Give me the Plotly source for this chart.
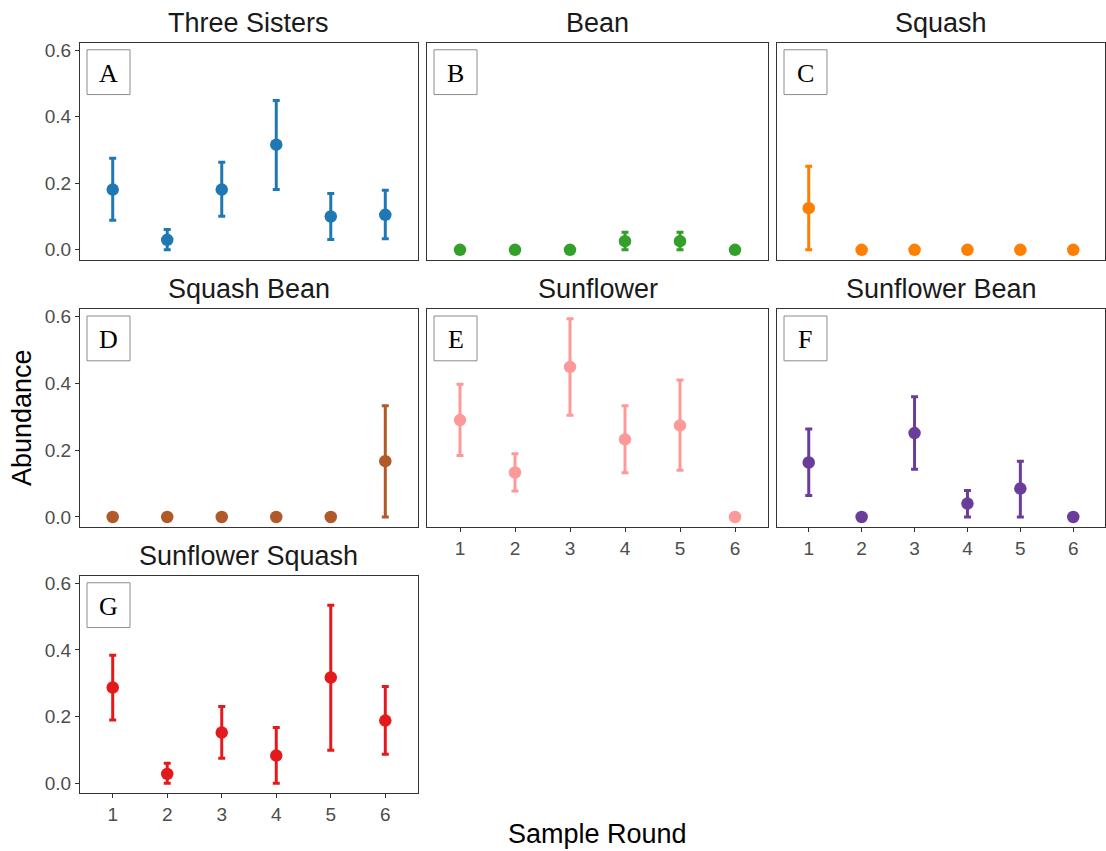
import plotly.graph_objects as go

W, H = 1106, 851

rounds = [1, 2, 3, 4, 5, 6]
panel_titles = ["Three Sisters", "Bean", "Squash", "Squash Bean", "Sunflower", "Sunflower Bean", "Sunflower Squash"]
panel_letters = ["A", "B", "C", "D", "E", "F", "G"]
panel_colors = ["#1f78b4", "#33a02c", "#ff7f00", "#b15928", "#fb9a99", "#6a3d9a", "#e31a1c"]

three_sisters_mean = [0.181, 0.030, 0.181, 0.316, 0.100, 0.105]
three_sisters_upper = [0.275, 0.061, 0.263, 0.449, 0.169, 0.179]
three_sisters_lower = [0.089, 0.0, 0.101, 0.181, 0.031, 0.033]

bean_mean = [0.0, 0.0, 0.0, 0.026, 0.026, 0.0]
bean_upper = [0.0, 0.0, 0.0, 0.053, 0.053, 0.0]
bean_lower = [0.0, 0.0, 0.0, 0.0, 0.0, 0.0]

squash_mean = [0.125, 0.0, 0.0, 0.0, 0.0, 0.0]
squash_upper = [0.251, 0.0, 0.0, 0.0, 0.0, 0.0]
squash_lower = [0.0, 0.0, 0.0, 0.0, 0.0, 0.0]

squash_bean_mean = [0.0, 0.0, 0.0, 0.0, 0.0, 0.167]
squash_bean_upper = [0.0, 0.0, 0.0, 0.0, 0.0, 0.333]
squash_bean_lower = [0.0, 0.0, 0.0, 0.0, 0.0, 0.0]

sunflower_mean = [0.290, 0.133, 0.449, 0.232, 0.274, 0.0]
sunflower_upper = [0.397, 0.189, 0.593, 0.333, 0.410, 0.0]
sunflower_lower = [0.184, 0.078, 0.304, 0.132, 0.140, 0.0]

sunflower_bean_mean = [0.163, 0.0, 0.251, 0.040, 0.085, 0.0]
sunflower_bean_upper = [0.263, 0.0, 0.360, 0.079, 0.167, 0.0]
sunflower_bean_lower = [0.064, 0.0, 0.143, 0.0, 0.0, 0.0]

sunflower_squash_mean = [0.287, 0.028, 0.152, 0.083, 0.317, 0.188]
sunflower_squash_upper = [0.384, 0.060, 0.230, 0.167, 0.534, 0.290]
sunflower_squash_lower = [0.190, 0.0, 0.075, 0.0, 0.099, 0.087]

y_tick_vals = [0.0, 0.2, 0.4, 0.6]
y_tick_text = ["0.0", "0.2", "0.4", "0.6"]
x_tick_text = ["1", "2", "3", "4", "5", "6"]

series = [
    (three_sisters_mean, three_sisters_upper, three_sisters_lower),
    (bean_mean, bean_upper, bean_lower),
    (squash_mean, squash_upper, squash_lower),
    (squash_bean_mean, squash_bean_upper, squash_bean_lower),
    (sunflower_mean, sunflower_upper, sunflower_lower),
    (sunflower_bean_mean, sunflower_bean_upper, sunflower_bean_lower),
    (sunflower_squash_mean, sunflower_squash_upper, sunflower_squash_lower),
]

# panel pixel geometry (left, right) and (top, bottom)
cols_px = [(80, 418), (427, 768), (777, 1105)]
rows_px = [(40, 258), (307.5, 526.5), (575.5, 794)]
positions = [(0, 0), (0, 1), (0, 2), (1, 0), (1, 1), (1, 2), (2, 0)]
show_x = [False, False, False, False, True, True, True]
show_y = [True, False, False, True, False, False, True]

FONT = "Liberation Sans, Arial, Helvetica, sans-serif"
fig = go.Figure()
annotations = []
shapes = []

for i, (mean, up, lo) in enumerate(series):
    r, c = positions[i]
    xl, xr = cols_px[c]
    yt, yb = rows_px[r]
    suffix = "" if i == 0 else str(i + 1)
    fig.add_trace(go.Scatter(
        x=rounds, y=mean, mode="markers",
        marker=dict(color=panel_colors[i], size=12.5),
        error_y=dict(type="data", symmetric=False,
                     array=[u - m for u, m in zip(up, mean)],
                     arrayminus=[m - l for m, l in zip(mean, lo)],
                     color=panel_colors[i], thickness=3, width=3.5),
        xaxis="x" + suffix, yaxis="y" + suffix, showlegend=False,
        hoverinfo="x+y",
    ))
    xa = dict(domain=[xl / W, xr / W], range=[0.4, 6.6], anchor="y" + suffix,
              showgrid=False, zeroline=False, showline=True, mirror=True,
              linecolor="#333333", linewidth=1.2,
              tickvals=rounds if show_x[i] else [], ticktext=x_tick_text,
              ticks="outside" if show_x[i] else "", ticklen=4, tickcolor="#333333",
              showticklabels=show_x[i],
              tickfont=dict(family=FONT, size=19, color="#4d4d4d"))
    ya = dict(domain=[(H - yb) / H, (H - yt) / H], range=[-0.03, 0.622], anchor="x" + suffix,
              showgrid=False, zeroline=False, showline=True, mirror=True,
              linecolor="#333333", linewidth=1.2,
              tickvals=y_tick_vals if show_y[i] else [], ticktext=y_tick_text,
              ticks="outside" if show_y[i] else "", ticklen=4, tickcolor="#333333",
              showticklabels=show_y[i],
              tickfont=dict(family=FONT, size=19, color="#4d4d4d"))
    fig.layout["xaxis" + suffix] = xa
    fig.layout["yaxis" + suffix] = ya

    # panel title
    annotations.append(dict(text=panel_titles[i], x=(xl + xr) / 2 / W, y=(H - (yt - 20)) / H,
                            xref="paper", yref="paper", xanchor="center", yanchor="middle",
                            showarrow=False, font=dict(family=FONT, size=27, color="#1a1a1a")))
    # letter box
    bx0, by0 = xl + 7, yt + 7
    bx1, by1 = bx0 + 43, by0 + 45
    shapes.append(dict(type="rect", xref="paper", yref="paper",
                       x0=bx0 / W, x1=bx1 / W, y0=(H - by0) / H, y1=(H - by1) / H,
                       line=dict(color="#8c8c8c", width=1), fillcolor="white", layer="above"))
    annotations.append(dict(text=panel_letters[i], x=(bx0 + bx1) / 2 / W, y=(H - (by0 + by1) / 2 - 1) / H,
                            xref="paper", yref="paper", xanchor="center", yanchor="middle",
                            showarrow=False,
                            font=dict(family="Liberation Serif, Times New Roman, serif", size=26, color="black")))

annotations.append(dict(text="Abundance", x=22 / W, y=(H - 417) / H, xref="paper", yref="paper",
                        xanchor="center", yanchor="middle", textangle=-90, showarrow=False,
                        font=dict(family=FONT, size=27, color="black")))
annotations.append(dict(text="Sample Round", x=597 / W, y=(H - 835) / H, xref="paper", yref="paper",
                        xanchor="center", yanchor="middle", showarrow=False,
                        font=dict(family=FONT, size=27, color="black")))

fig.update_layout(width=W, height=H, margin=dict(l=0, r=0, t=0, b=0),
                  paper_bgcolor="white", plot_bgcolor="white",
                  annotations=annotations, shapes=shapes)

fig.write_html("out.html")
